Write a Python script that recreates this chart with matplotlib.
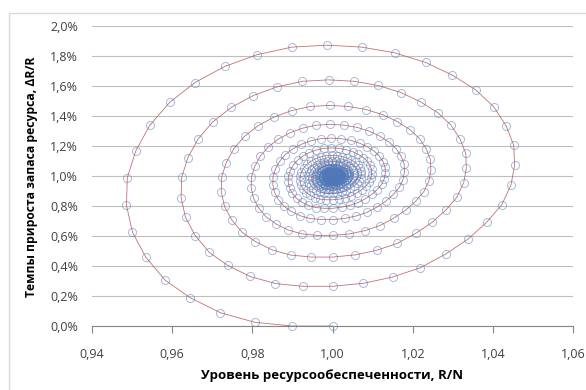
import numpy as np
import matplotlib
matplotlib.use("Agg")
import matplotlib.pyplot as plt
from matplotlib.ticker import FuncFormatter, MultipleLocator
from matplotlib.patches import Rectangle

plt.rcParams['font.family'] = ['Open Sans', 'DejaVu Sans']

# equilibrium point: R/N = 1.00, dR/R = 1.0 %
eq_x = 1.0
eq_y = 1.0

# one full turn of the trajectory (35 steps), offsets from the equilibrium
turn_dx = [0.0000, -0.0100, -0.0194, -0.0280, -0.0356, -0.0418, -0.0466,
           -0.0499, -0.0514, -0.0512, -0.0491, -0.0456, -0.0406, -0.0343,
           -0.0269, -0.0189, -0.0102, -0.0013, 0.0073, 0.0155, 0.0232,
           0.0299, 0.0357, 0.0402, 0.0433, 0.0452, 0.0454, 0.0445, 0.0422,
           0.0384, 0.0338, 0.0282, 0.0219, 0.0150, 0.0077]
turn_dy = [-1.000, -1.000, -0.975, -0.911, -0.810, -0.693, -0.540, -0.375,
           -0.195, -0.011, 0.167, 0.338, 0.493, 0.624, 0.731, 0.809, 0.860,
           0.873, 0.860, 0.822, 0.758, 0.673, 0.575, 0.462, 0.335, 0.205,
           0.071, -0.060, -0.191, -0.309, -0.420, -0.520, -0.611, -0.673,
           -0.715]

# size of each successive turn relative to the first one
turn_scale = [1.0, 0.735, 0.54, 0.395, 0.29, 0.215, 0.158, 0.116, 0.085,
              0.063, 0.046, 0.034, 0.025, 0.018, 0.013, 0.010, 0.007, 0.005]

x = eq_x + np.outer(turn_scale, turn_dx).ravel()
y = eq_y + np.outer(turn_scale, turn_dy).ravel()
x = np.append(x, eq_x)
y = np.append(y, eq_y)

fig = plt.figure(figsize=(5.86, 3.9), dpi=100)
ax = fig.add_axes([0.157, 0.164, 0.821, 0.769])

ax.plot(x, y, '-', color='#b8585a', lw=0.6, alpha=0.85, zorder=2, clip_on=False)
ax.plot(x, y, 'o', ms=5.8, mfc='none', mec='#5078b8', mew=0.7, alpha=0.5,
        zorder=3, clip_on=False)

ax.set_xlim(0.94, 1.06)
ax.set_ylim(0, 2.0)
ax.xaxis.set_major_locator(MultipleLocator(0.02))
ax.yaxis.set_major_locator(MultipleLocator(0.2))
ax.xaxis.set_major_formatter(FuncFormatter(lambda v, p: f"{v:.2f}".replace('.', ',')))
ax.yaxis.set_major_formatter(FuncFormatter(lambda v, p: f"{v:.1f}%".replace('.', ',')))

for s in ['top', 'right', 'left']:
    ax.spines[s].set_visible(False)
ax.spines['bottom'].set_color('#868686')
ax.tick_params(axis='x', direction='out', length=5, color='#868686',
               labelsize=9, labelcolor='#404040', pad=11)
ax.tick_params(axis='y', length=0, labelsize=9, labelcolor='#404040', pad=10)
ax.grid(axis='y', color='#bfbfbf', lw=0.8)
ax.set_axisbelow(True)

fig.text(332 / 586, 1 - 376 / 390, 'Уровень ресурсообеспеченности, R/N',
         ha='center', va='center', fontsize=9.5, fontweight='bold')
fig.text(32 / 586, 1 - 177 / 390, 'Темпы прироста запаса ресурса, ΔR/R',
         ha='center', va='center', rotation=90, fontsize=8.7, fontweight='bold')

fig.patches.append(Rectangle((9 / 586, -0.1), 1.2, 1 - 12.5 / 390 + 0.1,
                             transform=fig.transFigure, fill=False,
                             edgecolor='#d9d9d9', lw=1))

fig.savefig('out.png', dpi=100)
